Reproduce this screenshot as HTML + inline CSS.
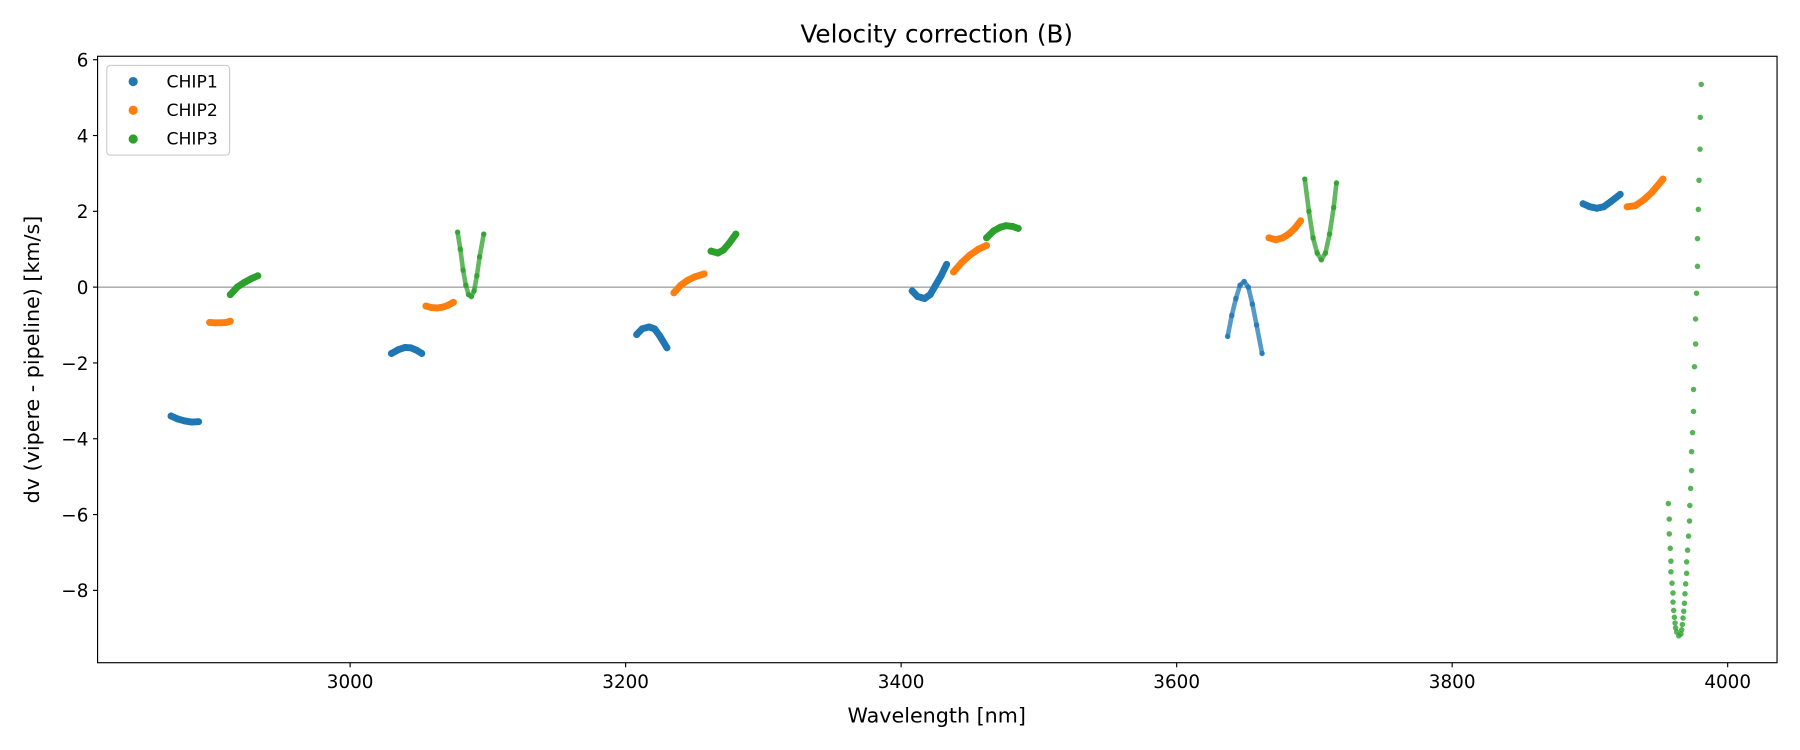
<!DOCTYPE html>
<html><head><meta charset="utf-8"><style>
html,body{margin:0;padding:0;background:#fff;}
svg{display:block;font-family:"DejaVu Sans","Liberation Sans",sans-serif;}
</style></head><body>
<svg id="chart" width="1800" height="750" viewBox="0 0 1568 653" preserveAspectRatio="none" xmlns="http://www.w3.org/2000/svg">
<rect x="0" y="0" width="1568" height="653" fill="#fff"/>
<text x="816" y="37" font-size="21.5" text-anchor="middle" fill="#000">Velocity correction (B)</text>
<text x="816" y="629" font-size="18" text-anchor="middle" fill="#000">Wavelength [nm]</text>
<text x="0" y="0" font-size="18" text-anchor="middle" fill="#000" transform="translate(34,313) rotate(-90)">dv (vipere - pipeline) [km/s]</text>
<g id="plot"></g>
<rect x="85" y="49" width="1463" height="528" fill="none" stroke="#000" stroke-width="1"/>
<g>
<rect x="93" y="57" width="107" height="78" rx="3" fill="#fff" fill-opacity="0.8" stroke="#ccc" stroke-width="1"/>
<circle cx="116" cy="71" r="4" fill="#1f77b4"/><text x="145" y="76" font-size="15">CHIP1</text>
<circle cx="116" cy="96" r="4" fill="#ff7f0e"/><text x="145" y="101" font-size="15">CHIP2</text>
<circle cx="116" cy="121" r="4" fill="#2ca02c"/><text x="145" y="126" font-size="15">CHIP3</text>
</g>
</svg>
<script>
const xTicks = [3000, 3200, 3400, 3600, 3800, 4000];
const yTicks = [-8, -6, -4, -2, 0, 2, 4, 6];
const yTickLabels = ["\u22128", "\u22126", "\u22124", "\u22122", "0", "2", "4", "6"];
const chipNames = ["CHIP1", "CHIP2", "CHIP3"];
const chipColors = ["#1f77b4", "#ff7f0e", "#2ca02c"];
const chip1Wl = [
 [2870,2875,2880,2885,2890],
 [3030,3035,3040,3044,3048,3052],
 [3208,3212,3217,3221,3225,3230],
 [3408,3412,3417,3421,3425,3429,3433],
 [3637,3640,3643,3646,3649,3652,3655,3658,3662],
 [3895,3900,3905,3910,3915,3922]
];
const chip1Dv = [
 [-3.4,-3.48,-3.53,-3.56,-3.55],
 [-1.75,-1.65,-1.59,-1.6,-1.66,-1.75],
 [-1.25,-1.1,-1.05,-1.1,-1.3,-1.6],
 [-0.1,-0.25,-0.3,-0.2,0.05,0.3,0.6],
 [-1.3,-0.75,-0.3,0.05,0.15,0.0,-0.45,-1.0,-1.75],
 [2.2,2.12,2.08,2.12,2.25,2.45]
];
const chip2Wl = [
 [2898,2902,2906,2910,2913],
 [3055,3059,3063,3067,3071,3075],
 [3235,3240,3245,3250,3257],
 [3438,3444,3450,3456,3462],
 [3667,3672,3677,3682,3686,3690],
 [3927,3933,3939,3945,3953]
];
const chip2Dv = [
 [-0.93,-0.94,-0.94,-0.93,-0.9],
 [-0.5,-0.54,-0.55,-0.53,-0.48,-0.4],
 [-0.15,0.05,0.18,0.27,0.35],
 [0.4,0.65,0.85,1.0,1.1],
 [1.3,1.25,1.3,1.42,1.56,1.75],
 [2.12,2.15,2.3,2.5,2.85]
];
const chip3Wl = [
 [2913,2918,2923,2928,2933],
 [3078,3080,3082,3084,3086,3088,3090,3092,3094,3097],
 [3262,3267,3271,3275,3280],
 [3462,3467,3472,3476,3481,3485],
 [3693,3696,3699,3702,3705,3708,3711,3714,3716],
 [3956.9,3957.6,3957.6,3958.3,3958.8,3958.8,3959.6,3960.3,3960.3,3960.8,3961.3,3961.8,3962.2,3963.0,3964.5,3966.1,3966.6,3967.1,3967.6,3968.1,3968.6,3969.0,3969.5,3970.2,3970.2,3970.9,3971.6,3972.3,3972.5,3973.1,3973.8,3973.8,3974.5,3975.2,3975.2,3975.9,3976.7,3976.7,3977.4,3978.1,3978.1,3978.7,3979.2,3979.9,3980.1,3980.8]
];
const chip3Dv = [
 [-0.2,0.0,0.12,0.22,0.3],
 [1.45,1.0,0.45,0.05,-0.2,-0.25,-0.1,0.3,0.8,1.4],
 [0.95,0.9,0.98,1.15,1.4],
 [1.3,1.48,1.58,1.62,1.6,1.55],
 [2.85,2.0,1.3,0.9,0.72,0.9,1.4,2.1,2.75],
 [-5.71,-6.12,-6.51,-6.89,-7.23,-7.51,-7.81,-8.07,-8.31,-8.53,-8.71,-8.86,-8.99,-9.10,-9.2,-9.15,-9.04,-8.90,-8.73,-8.55,-8.34,-8.09,-7.83,-7.55,-7.25,-6.94,-6.57,-6.17,-5.76,-5.31,-4.84,-4.34,-3.84,-3.28,-2.70,-2.10,-1.50,-0.84,-0.16,0.55,1.28,2.05,2.82,3.64,4.48,5.35]
];
const sparseSegments = [[0,4],[2,1],[2,4],[2,5]];

const L=85,R=1548,T=49,B=577;
const xs = v => 305 + (v-3000)*1.2;
const ys = v => 250 - v*33;
const NS="http://www.w3.org/2000/svg";
const svg=document.getElementById('chart');
const plot=document.getElementById('plot');
function mk(tag,attrs,parent){const e=document.createElementNS(NS,tag);for(const k in attrs)e.setAttribute(k,attrs[k]);(parent||svg).appendChild(e);return e;}

const zl=mk('line',{x1:L,x2:R,y1:ys(0),y2:ys(0),stroke:'#808080','stroke-width':0.9},plot);



xTicks.forEach(t=>{
 const x=xs(t);
 const l=mk('line',{x1:x,x2:x,y1:B,y2:B+4,stroke:'#000'});
 
 
 const tx=mk('text',{x:x,y:B+22,'font-size':16,'text-anchor':'middle'});
 tx.textContent=t;
 
 
});
yTicks.forEach((t,i)=>{
 const y=ys(t);
 const l=mk('line',{x1:L-4,x2:L,y1:y,y2:y,stroke:'#000'});
 
 
 const tx=mk('text',{x:L-8,y:y+6,'font-size':16,'text-anchor':'end'});
 tx.textContent=yTickLabels[i];
 
 
});

const allWl=[chip1Wl,chip2Wl,chip3Wl], allDv=[chip1Dv,chip2Dv,chip3Dv];
allWl.forEach((segs,c)=>{
 segs.forEach((wl,s)=>{
  const dv=allDv[c][s];
  const sparse=sparseSegments.some(p=>p[0]===c&&p[1]===s);
  const g=mk('g',{},plot);
  
  
  if(!(c===2&&s===5)){
   const pts=wl.map((w,i)=>xs(w)+','+ys(dv[i])).join(' ');
   const pl=mk('polyline',{points:pts,fill:'none',stroke:chipColors[c],'stroke-opacity':sparse?0.75:1,'stroke-width':sparse?4:6,'stroke-linecap':'round','stroke-linejoin':'round'},g);
   
   
  }
  wl.forEach((w,i)=>{
   const d=mk('circle',{cx:xs(w),cy:ys(dv[i]),r:sparse?2.4:3,fill:chipColors[c],'fill-opacity':sparse?0.8:1},g);
   
   
  });
 });
});
</script>
</body></html>
